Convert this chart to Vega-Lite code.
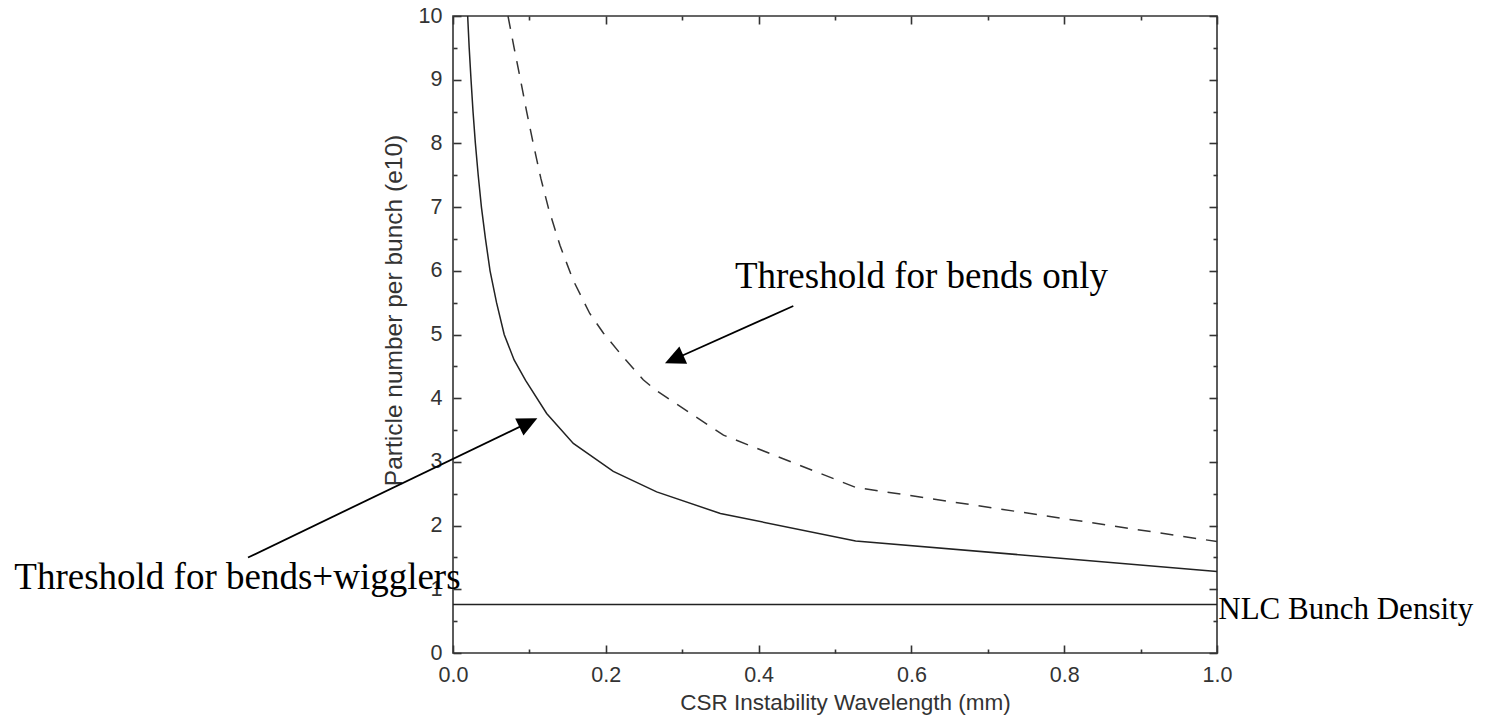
{
  "$schema": "https://vega.github.io/schema/vega-lite/v6.json",
  "width": 764,
  "height": 637,
  "autosize": {"type": "none"},
  "padding": {"left": 453, "top": 16, "right": 268, "bottom": 62},
  "background": "white",
  "config": {
    "view": {"stroke": "#333", "strokeWidth": 1.6},
    "axis": {
      "grid": false,
      "domain": false,
      "labelFont": "Liberation Sans",
      "labelFontSize": 21.5,
      "labelColor": "#333",
      "titleFont": "Liberation Sans",
      "titleFontSize": 22.5,
      "titleFontWeight": "normal",
      "titleColor": "#333",
      "tickColor": "#333",
      "tickWidth": 1.6,
      "labelFlush": false,
      "labelOverlap": false
    }
  },
  "datasets": {
    "curves": [
      {"x": 0.0192, "y": 10.0, "series": "bends+wigglers"},
      {"x": 0.0212, "y": 9.5, "series": "bends+wigglers"},
      {"x": 0.0236, "y": 9.0, "series": "bends+wigglers"},
      {"x": 0.0262, "y": 8.5, "series": "bends+wigglers"},
      {"x": 0.0293, "y": 8.0, "series": "bends+wigglers"},
      {"x": 0.033, "y": 7.5, "series": "bends+wigglers"},
      {"x": 0.0372, "y": 7.0, "series": "bends+wigglers"},
      {"x": 0.0425, "y": 6.5, "series": "bends+wigglers"},
      {"x": 0.0485, "y": 6.0, "series": "bends+wigglers"},
      {"x": 0.057, "y": 5.5, "series": "bends+wigglers"},
      {"x": 0.067, "y": 5.0, "series": "bends+wigglers"},
      {"x": 0.08, "y": 4.6, "series": "bends+wigglers"},
      {"x": 0.095, "y": 4.28, "series": "bends+wigglers"},
      {"x": 0.1226, "y": 3.76, "series": "bends+wigglers"},
      {"x": 0.1575, "y": 3.29, "series": "bends+wigglers"},
      {"x": 0.2098, "y": 2.85, "series": "bends+wigglers"},
      {"x": 0.2666, "y": 2.53, "series": "bends+wigglers"},
      {"x": 0.35, "y": 2.19, "series": "bends+wigglers"},
      {"x": 0.527, "y": 1.76, "series": "bends+wigglers"},
      {"x": 1.0, "y": 1.28, "series": "bends+wigglers"},
      {"x": 0.072, "y": 10.0, "series": "bends only"},
      {"x": 0.08, "y": 9.5, "series": "bends only"},
      {"x": 0.0883, "y": 9.0, "series": "bends only"},
      {"x": 0.0964, "y": 8.5, "series": "bends only"},
      {"x": 0.105, "y": 8.0, "series": "bends only"},
      {"x": 0.115, "y": 7.45, "series": "bends only"},
      {"x": 0.125, "y": 6.98, "series": "bends only"},
      {"x": 0.14, "y": 6.4, "series": "bends only"},
      {"x": 0.157, "y": 5.86, "series": "bends only"},
      {"x": 0.179, "y": 5.33, "series": "bends only"},
      {"x": 0.197, "y": 5.02, "series": "bends only"},
      {"x": 0.219, "y": 4.7, "series": "bends only"},
      {"x": 0.249, "y": 4.29, "series": "bends only"},
      {"x": 0.265, "y": 4.13, "series": "bends only"},
      {"x": 0.354, "y": 3.42, "series": "bends only"},
      {"x": 0.527, "y": 2.6, "series": "bends only"},
      {"x": 1.0, "y": 1.75, "series": "bends only"}
    ],
    "labels": [
      {"x": 0.369, "y": 5.73, "label": "Threshold for bends only"},
      {"x": -0.5742, "y": 1.005, "label": "Threshold for bends+wigglers"}
    ],
    "nlcLabel": [
      {"x": 1.0017, "y": 0.534, "label": "NLC Bunch Density"}
    ],
    "nlc": [
      {"y": 0.76}
    ],
    "arrows": [
      {"x": 0.4454, "y": 5.447, "x2": 0.2894, "y2": 4.612, "target": "bends only"},
      {"x": -0.2683, "y": 1.499, "x2": 0.0986, "y2": 3.616, "target": "bends+wigglers"}
    ]
  },
  "layer": [
    {
      "data": {"name": "curves"},
      "transform": [{"filter": "datum.series === 'bends+wigglers'"}],
      "mark": {"type": "line", "stroke": "#222", "strokeWidth": 1.5},
      "encoding": {
        "x": {
          "field": "x", "type": "quantitative",
          "scale": {"domain": [0, 1], "nice": false, "zero": false},
          "axis": {
            "orient": "bottom", "values": [0, 0.2, 0.4, 0.6, 0.8, 1.0], "format": ".1f",
            "ticks": false, "labelPadding": 11,
            "title": "CSR Instability Wavelength (mm)",
            "titleX": 392, "titleY": 56, "titleBaseline": "alphabetic"
          }
        },
        "y": {
          "field": "y", "type": "quantitative",
          "scale": {"domain": [0, 10], "nice": false, "zero": false},
          "axis": {
            "orient": "left", "values": [0, 1, 2, 3, 4, 5, 6, 7, 8, 9, 10], "format": "d",
            "ticks": false, "labelPadding": 11,
            "title": "Particle number per bunch (e10)", "titleFontSize": 24.5,
            "titleX": -59, "titleY": 294, "titleBaseline": "middle"
          }
        }
      }
    },
    {
      "data": {"name": "curves"},
      "transform": [{"filter": "datum.series === 'bends only'"}],
      "mark": {"type": "line", "stroke": "#333", "strokeWidth": 1.5, "strokeDash": [13, 10]},
      "encoding": {
        "x": {
          "field": "x", "type": "quantitative",
          "axis": {"orient": "bottom", "values": [0, 0.2, 0.4, 0.6, 0.8, 1.0], "labels": false, "title": null, "tickSize": -8}
        },
        "y": {
          "field": "y", "type": "quantitative",
          "axis": {"orient": "left", "values": [0, 1, 2, 3, 4, 5, 6, 7, 8, 9, 10], "labels": false, "title": null, "tickSize": -8}
        }
      }
    },
    {
      "data": {"name": "labels"},
      "mark": {"type": "text", "font": "Liberation Serif", "fontSize": 37, "align": "left", "baseline": "alphabetic", "color": "black"},
      "encoding": {
        "x": {
          "field": "x", "type": "quantitative",
          "axis": {"orient": "bottom", "values": [0.1, 0.3, 0.5, 0.7, 0.9], "labels": false, "title": null, "tickSize": -4}
        },
        "y": {
          "field": "y", "type": "quantitative",
          "axis": {"orient": "left", "values": [0.5, 1.5, 2.5, 3.5, 4.5, 5.5, 6.5, 7.5, 8.5, 9.5], "labels": false, "title": null, "tickSize": -4}
        },
        "text": {"field": "label"}
      }
    },
    {
      "data": {"name": "arrows"},
      "mark": {"type": "rule", "stroke": "black", "strokeWidth": 1.8},
      "encoding": {
        "x": {
          "field": "x", "type": "quantitative",
          "axis": {"orient": "top", "values": [0, 0.2, 0.4, 0.6, 0.8, 1.0], "labels": false, "title": null, "tickSize": -8}
        },
        "y": {
          "field": "y", "type": "quantitative",
          "axis": {"orient": "right", "values": [0, 1, 2, 3, 4, 5, 6, 7, 8, 9, 10], "labels": false, "title": null, "tickSize": -8}
        },
        "x2": {"field": "x2"},
        "y2": {"field": "y2"}
      }
    },
    {
      "data": {"name": "arrows"},
      "transform": [{"filter": "datum.target === 'bends only'"}],
      "mark": {"type": "point", "shape": "M0,-1L-0.95,1L0.95,1Z", "size": 400, "angle": 246, "filled": true, "fill": "black", "stroke": null, "opacity": 1},
      "encoding": {
        "x": {
          "field": "x2", "type": "quantitative",
          "axis": {"orient": "top", "values": [0.1, 0.3, 0.5, 0.7, 0.9], "labels": false, "title": null, "tickSize": -4}
        },
        "y": {
          "field": "y2", "type": "quantitative",
          "axis": {"orient": "right", "values": [0.5, 1.5, 2.5, 3.5, 4.5, 5.5, 6.5, 7.5, 8.5, 9.5], "labels": false, "title": null, "tickSize": -4}
        }
      }
    },
    {
      "data": {"name": "arrows"},
      "transform": [{"filter": "datum.target === 'bends+wigglers'"}],
      "mark": {"type": "point", "shape": "M0,-1L-0.95,1L0.95,1Z", "size": 400, "angle": 64.2, "filled": true, "fill": "black", "stroke": null, "opacity": 1},
      "encoding": {
        "x": {"field": "x2", "type": "quantitative", "axis": null},
        "y": {"field": "y2", "type": "quantitative", "axis": null}
      }
    },
    {
      "data": {"name": "nlcLabel"},
      "mark": {"type": "text", "font": "Liberation Serif", "fontSize": 31, "align": "left", "baseline": "alphabetic", "color": "black"},
      "encoding": {
        "x": {"field": "x", "type": "quantitative", "axis": null},
        "y": {"field": "y", "type": "quantitative", "axis": null},
        "text": {"field": "label"}
      }
    },
    {
      "data": {"name": "nlc"},
      "mark": {"type": "rule", "stroke": "#222", "strokeWidth": 1.5},
      "encoding": {
        "y": {"field": "y", "type": "quantitative", "axis": null}
      }
    }
  ],
  "resolve": {"axis": {"x": "independent", "y": "independent"}}
}
